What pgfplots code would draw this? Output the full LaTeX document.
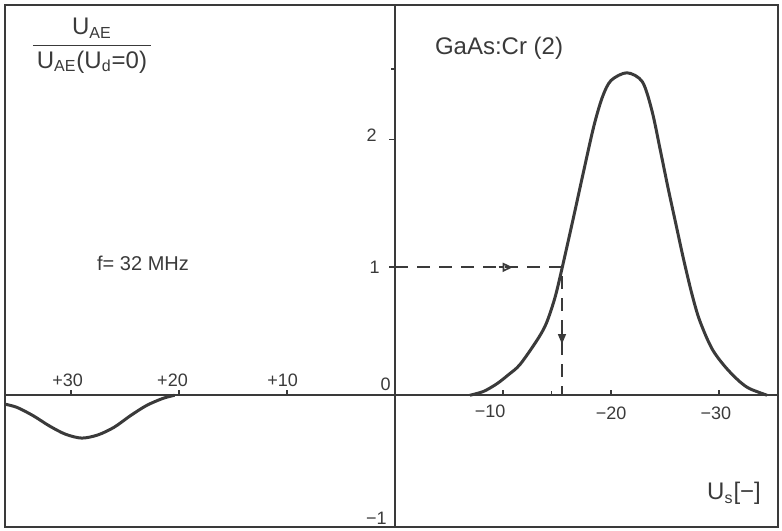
\documentclass[border=0pt]{standalone}
\usepackage{fontspec}
\setmainfont{Liberation Sans}
\usepackage{pgfplots}
\pgfplotsset{compat=1.18}
\usetikzlibrary{arrows.meta}
\definecolor{ink}{HTML}{3A3A3A}

\begin{document}
\begin{tikzpicture}
\begin{axis}[
  scale only axis, width=386.5pt, height=261pt,
  x dir=reverse,
  xmin=-35.46, xmax=36.11, ymin=-1.03, ymax=3.05,
  axis line style={ink, line width=1.1pt},
  ticks=none,
  clip=false,
]
% zero lines
\addplot[ink, line width=1pt] coordinates {(36.11,0) (-35.46,0)};
\addplot[ink, line width=1pt] coordinates {(0,-1.03) (0,3.05)};

% GaAs:Cr (2) curve
\addplot[ink, line width=1.5pt, smooth, tension=0.5] coordinates {
  (-6.94,0) (-8.2,0.03) (-9.44,0.09) (-10.5,0.16) (-11.57,0.24)
  (-13.15,0.43) (-14.0,0.56) (-14.8,0.76) (-15.46,0.99) (-16.5,1.38)
  (-17.41,1.73) (-18.4,2.1) (-19.2,2.33) (-20.0,2.46) (-21.48,2.52)
  (-22.9,2.45) (-23.8,2.22) (-24.6,1.9) (-25.28,1.62) (-26.0,1.34)
  (-26.67,1.08) (-27.4,0.82) (-28.06,0.62) (-28.8,0.46) (-29.44,0.35)
  (-30.2,0.26) (-31.02,0.18) (-32.0,0.10) (-32.87,0.05) (-34.44,0)
};
% negative branch
\addplot[ink, line width=1.5pt, smooth, tension=0.5] coordinates {
  (36.11,-0.07) (35.0,-0.095) (33.5,-0.16) (32.0,-0.24) (30.5,-0.305)
  (29.0,-0.335) (27.5,-0.31) (26.0,-0.25) (24.5,-0.16) (23.0,-0.08)
  (21.5,-0.025) (20.4,0)
};

% dashed guide lines
\addplot[ink, line width=1pt, dash pattern=on 6.5pt off 4.5pt] coordinates {(0,1) (-15.46,1) (-15.46,0)};
\draw[ink, line width=0.8pt, -{Triangle[open, length=5pt, width=4.5pt]}] (axis cs:-9.6,1) -- (axis cs:-10.9,1);
\draw[ink, line width=0.8pt, -{Triangle[length=5pt, width=4pt]}] (axis cs:-15.46,0.52) -- (axis cs:-15.46,0.40);

% tick marks
\draw[ink, line width=0.8pt] (axis cs:30,0) -- ([yshift=2.5pt]axis cs:30,0);
\draw[ink, line width=0.8pt] (axis cs:20,0) -- ([yshift=2.5pt]axis cs:20,0);
\draw[ink, line width=0.8pt] (axis cs:10,0) -- ([yshift=2.5pt]axis cs:10,0);
\draw[ink, line width=0.8pt] (axis cs:-10,0) -- ([yshift=2.5pt]axis cs:-10,0);
\draw[ink, line width=0.8pt] (axis cs:-14.5,0) -- ([yshift=2pt]axis cs:-14.5,0);
\draw[ink, line width=0.8pt] (axis cs:-20,0) -- ([yshift=2.5pt]axis cs:-20,0);
\draw[ink, line width=0.8pt] (axis cs:-30,0) -- ([yshift=2.5pt]axis cs:-30,0);
\draw[ink, line width=0.8pt] (axis cs:0,2) -- ([xshift=-3pt]axis cs:0,2);
\draw[ink, line width=0.8pt] (axis cs:0,1) -- ([xshift=-3pt]axis cs:0,1);
\draw[ink, line width=0.8pt] (axis cs:0,2.55) -- ([xshift=-2pt]axis cs:0,2.55);

% tick labels
\node[text=ink, font=\small, anchor=south, inner sep=1pt] at (axis cs:30.3,0.05) {+30};
\node[text=ink, font=\small, anchor=south, inner sep=1pt] at (axis cs:20.6,0.05) {+20};
\node[text=ink, font=\small, anchor=south, inner sep=1pt] at (axis cs:10.4,0.05) {+10};
\node[text=ink, font=\small, anchor=north, inner sep=1pt] at (axis cs:-8.8,-0.06) {−10};
\node[text=ink, font=\small, anchor=north, inner sep=1pt] at (axis cs:-20,-0.07) {−20};
\node[text=ink, font=\small, anchor=north, inner sep=1pt] at (axis cs:-29.7,-0.07) {−30};
\node[text=ink, font=\small, anchor=east, inner sep=0pt] at ([xshift=-9pt]axis cs:0,2.03) {2};
\node[text=ink, font=\small, anchor=east, inner sep=0pt] at ([xshift=-7.5pt]axis cs:0,1) {1};
\node[text=ink, font=\small, anchor=south east, inner sep=0pt] at ([xshift=-2pt,yshift=2pt]axis cs:0,0) {0};
\node[text=ink, font=\small, anchor=east, inner sep=0pt] at ([xshift=-4pt]axis cs:0,-0.96) {−1};

% texts
\node[text=ink, font=\large, inner sep=0pt] at (axis cs:28.06,2.73)
  {\begin{tabular}{@{\,}c@{\,}}U\textsubscript{AE}\\[1pt]\hline\rule{0pt}{11pt}U\textsubscript{AE}(U\textsubscript{d}=0)\end{tabular}};
\node[text=ink, font=\large] at (axis cs:-9.63,2.71) {GaAs:Cr (2)};
\node[text=ink] at (axis cs:23.33,1.03) {f= 32 MHz};
\node[text=ink, font=\large] at (axis cs:-31.39,-0.766) {U\textsubscript{s}[−]};
\end{axis}
\path ([shift={(-2.5pt,-1.5pt)}]current axis.south west) rectangle ([shift={(2pt,2.5pt)}]current axis.north east);
\end{tikzpicture}
\end{document}
